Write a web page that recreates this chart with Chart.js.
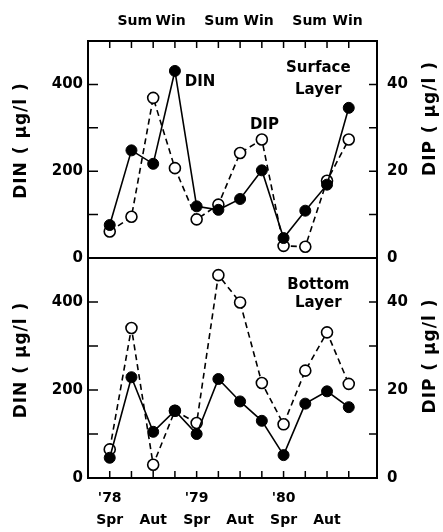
<!DOCTYPE html>
<html>
<head>
<meta charset="utf-8">
<script src="https://cdn.jsdelivr.net/npm/chart.js@4.4.1/dist/chart.umd.min.js"></script>
<style>
  html, body { margin: 0; padding: 0; background: #fff; }
  #wrap { position: relative; width: 443px; height: 532px; }
  canvas { position: absolute; left: 0; }
  #top { top: 0; }
  #bottom { top: 248px; }
</style>
</head>
<body>
<div id="wrap">
  <canvas id="top" width="443" height="272"></canvas>
  <canvas id="bottom" width="443" height="284"></canvas>
</div>
<script>
// sampling times, one per season, spring '78 to winter '80/81
var quarters = [0, 1, 2, 3, 4, 5, 6, 7, 8, 9, 10, 11];
var tickYear = ["'78", "", "", "", "'79", "", "", "", "'80", "", "", ""];
var tickSeason = ["Spr", "", "Aut", "", "Spr", "", "Aut", "", "Spr", "", "Aut", ""];
var headerLabels = ["Sum", "Win", "Sum", "Win", "Sum", "Win"];

// surface layer
var dinSurface = [76, 248, 217, 431, 119, 111, 136, 202, 46, 109, 169, 346];
var dipSurface = [6.1, 9.5, 36.9, 20.7, 8.9, 12.3, 24.2, 27.3, 2.8, 2.6, 17.8, 27.3];
// bottom layer
var dinBottom = [46, 229, 105, 153, 100, 225, 174, 130, 52, 169, 197, 161];
var dipBottom = [6.5, 34.1, 3.0, 15.3, 12.5, 46.1, 39.9, 21.6, 12.2, 24.4, 33.1, 21.4];

Chart.defaults.font.family = "'DejaVu Sans', sans-serif";
Chart.defaults.font.weight = "bold";
Chart.defaults.color = "#000";

function pts(arr) {
  return quarters.map(function (q, i) { return { x: q, y: arr[i] }; });
}

function datasets(din, dip) {
  return [
    {
      label: "DIN", data: pts(din), yAxisID: "yL", xAxisID: "x",
      borderColor: "#000", borderWidth: 1.6,
      pointRadius: 5.5, pointBackgroundColor: "#000", pointBorderColor: "#000", pointBorderWidth: 1
    },
    {
      label: "DIP", data: pts(dip), yAxisID: "yR", xAxisID: "x",
      borderColor: "#000", borderWidth: 1.6, borderDash: [6, 4],
      pointRadius: 5.5, pointBackgroundColor: "#fff", pointBorderColor: "#000", pointBorderWidth: 1.6
    }
  ];
}

function vText(c, text, x, y) {
  c.save();
  c.translate(x, y);
  c.rotate(-Math.PI / 2);
  c.fillText(text, 0, 0);
  c.restore();
}

// frame + inward tick marks + text notes + axis titles
function framePlugin(notes, xTickSide, titleShift) {
  return {
    id: "frame",
    afterDraw: function (chart) {
      var c = chart.ctx, a = chart.chartArea;
      var x = chart.scales.x, yL = chart.scales.yL, yR = chart.scales.yR;
      c.save();
      c.strokeStyle = "#000";
      c.lineWidth = 2;
      c.strokeRect(a.left, a.top, a.right - a.left, a.bottom - a.top);
      c.lineWidth = 1.5;
      c.beginPath();
      for (var v = 100; v < 500; v += 100) {
        var py = yL.getPixelForValue(v);
        c.moveTo(a.left, py); c.lineTo(a.left + 10, py);
      }
      for (var w = 10; w < 50; w += 10) {
        var qy = yR.getPixelForValue(w);
        c.moveTo(a.right, qy); c.lineTo(a.right - 8, qy);
      }
      quarters.forEach(function (q) {
        var px = x.getPixelForValue(q);
        if (xTickSide === "top") { c.moveTo(px, a.top); c.lineTo(px, a.top + 7); }
        else { c.moveTo(px, a.bottom); c.lineTo(px, a.bottom - 7); }
      });
      c.stroke();
      c.fillStyle = "#000";
      c.textBaseline = "middle";
      notes.forEach(function (n) {
        c.font = "bold " + n.size + "px 'DejaVu Sans', sans-serif";
        c.textAlign = n.align;
        c.fillText(n.text, x.getPixelForValue(n.x), yL.getPixelForValue(n.y));
      });
      // axis titles, both reading upwards
      var mid = (a.top + a.bottom) / 2;
      c.font = "bold 17px 'DejaVu Sans', sans-serif";
      c.textAlign = "center";
      c.letterSpacing = "1px";
      vText(c, "DIN ( \u03bcg/l )", 22, mid + titleShift[0]);
      vText(c, "DIP ( \u03bcg/l )", 431, mid + titleShift[1]);
      c.restore();
    }
  };
}

function noPad(s) { s.paddingTop = 0; s.paddingBottom = 0; s.paddingLeft = 0; s.paddingRight = 0; }

function yScales() {
  return {
    yL: {
      position: "left", min: 0, max: 500,
      afterFit: function (s) { s.width = 88; noPad(s); },
      grid: { display: false, drawTicks: false }, border: { display: false },
      ticks: {
        stepSize: 100, padding: 5, font: { size: 15 },
        callback: function (v) { return (v % 200 === 0 && v < 500) ? v : ""; }
      }
    },
    yR: {
      position: "right", min: 0, max: 50,
      afterFit: function (s) { s.width = 66; noPad(s); },
      grid: { display: false, drawTicks: false }, border: { display: false },
      ticks: {
        stepSize: 10, padding: 10, font: { size: 15 },
        callback: function (v) { return (v % 20 === 0 && v < 50) ? v : ""; }
      }
    }
  };
}

var common = {
  responsive: false,
  animation: false,
  plugins: { legend: { display: false }, tooltip: { enabled: false } }
};

var topScales = yScales();
topScales.x = { type: "linear", position: "bottom", min: -1, max: 12.3, display: false };
topScales.xTop = {
  type: "linear", position: "top", min: -1, max: 12.3,
  afterFit: function (s) { s.height = 41; noPad(s); },
  afterBuildTicks: function (s) {
    s.ticks = [1.15, 2.8, 5.15, 6.85, 9.2, 10.95].map(function (v) { return { value: v }; });
  },
  grid: { display: false, drawTicks: false }, border: { display: false },
  ticks: {
    padding: 11, font: { size: 14 }, maxRotation: 0, autoSkip: false,
    callback: function (v, i) { return headerLabels[i]; }
  }
};

new Chart(document.getElementById("top"), {
  type: "line",
  data: { datasets: datasets(dinSurface, dipSurface) },
  options: Object.assign({}, common, {
    layout: { padding: { top: 0, bottom: 14, left: 0, right: 0 } },
    scales: topScales
  }),
  plugins: [framePlugin([
    { text: "DIN", x: 3.45, y: 405, size: 15, align: "left" },
    { text: "DIP", x: 6.45, y: 306, size: 15, align: "left" },
    { text: "Surface", x: 9.6, y: 438, size: 15, align: "center" },
    { text: "Layer", x: 9.6, y: 387, size: 15, align: "center" }
  ], "top", [-9, -31])]
});

var botScales = yScales();
botScales.x = {
  type: "linear", position: "bottom", min: -1, max: 12.3,
  afterFit: function (s) { s.height = 54; noPad(s); },
  afterBuildTicks: function (s) {
    s.ticks = quarters.map(function (q) { return { value: q }; });
  },
  grid: { display: false, drawTicks: false }, border: { display: false },
  ticks: {
    padding: 9, font: { size: 14, lineHeight: 1.6 }, maxRotation: 0, autoSkip: false,
    callback: function (v, i) {
      if (!tickYear[i] && !tickSeason[i]) return "";
      return [tickYear[i], tickSeason[i]];
    }
  }
};

new Chart(document.getElementById("bottom"), {
  type: "line",
  data: { datasets: datasets(dinBottom, dipBottom) },
  options: Object.assign({}, common, {
    layout: { padding: { top: 10, bottom: 0, left: 0, right: 0 } },
    scales: botScales
  }),
  plugins: [framePlugin([
    { text: "Bottom", x: 9.6, y: 439, size: 15, align: "center" },
    { text: "Layer", x: 9.6, y: 398, size: 15, align: "center" }
  ], "bottom", [-8, -12])]
});
</script>
</body>
</html>
